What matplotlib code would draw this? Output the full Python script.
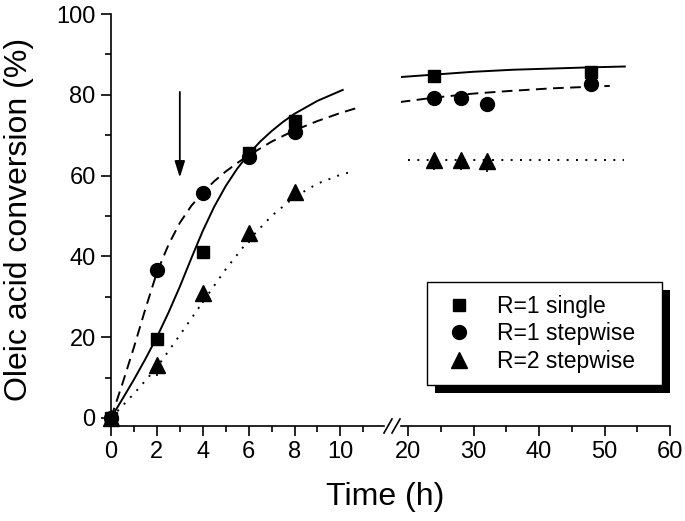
import numpy as np
import matplotlib
matplotlib.use("Agg")
import matplotlib.pyplot as plt
from matplotlib.lines import Line2D
import matplotlib.patheffects as pe

plt.rcParams["font.family"] = ["Liberation Sans", "DejaVu Sans"]

# measured points (time in h, conversion in %)
t_single = [0, 2, 4, 6, 8, 24, 48]
y_single = [0, 19.5, 41, 65.5, 73.5, 84.6, 85.6]
e_single = [0, 0.5, 0.5, 0.5, 0.5, 0.5, 0.5]

t_step1 = [0, 2, 4, 6, 8, 24, 28, 32, 48]
y_step1 = [0, 36.5, 55.8, 64.6, 70.7, 79.1, 79.2, 77.8, 82.6]
e_step1 = [0, 0.5, 0.5, 0.5, 0.5, 0.5, 0.5, 1.6, 0.5]

t_step2 = [0, 2, 4, 6, 8, 24, 28, 32]
y_step2 = [0, 13, 31, 45.8, 56, 63.9, 63.9, 63.7]
e_step2 = [0, 2.6, 2.6, 2.6, 1.5, 2.6, 2.6, 2.8]
e_step2_hi = [0, 1.0, 1.0, 1.0, 1.0, 1.0, 1.0, 1.0]

# fitted curves
fit_t_single = [0, 0.5, 1, 1.5, 2, 2.5, 3, 3.5, 4, 4.5, 5, 5.5, 6, 6.5, 7, 7.5, 8, 9, 10.1]
fit_y_single = [0, 4.7, 9.5, 14.6, 20, 26, 32.5, 39.5, 46.3, 52.3, 57.4, 61.7, 65.3, 68.4, 71, 73.3, 75.3, 78.5, 81.2]
fit_t_step1 = [0, 0.5, 1, 1.5, 2, 2.5, 3, 3.5, 4, 4.5, 5, 5.5, 6, 7, 8, 9, 10, 10.7]
fit_y_step1 = [0, 8.5, 17.5, 27, 36, 42.8, 48.3, 52.5, 55.8, 58.6, 61, 63.1, 65, 68.4, 71.2, 73.5, 75.5, 76.7]
fit_t_step2 = [0, 1, 2, 3, 4, 5, 6, 7, 8, 9, 10, 10.4]
fit_y_step2 = [0, 6, 12.5, 20.5, 28.7, 36.8, 44, 50, 54.7, 58, 60.2, 60.8]

fit2_t_single = [18.9, 24, 30, 36, 42, 48, 53.1]
fit2_y_single = [84.4, 85.0, 85.7, 86.2, 86.5, 86.8, 87.0]
fit2_t_step1 = [18.7, 24, 30, 36, 42, 48, 50.8]
fit2_y_step1 = [78.2, 79.3, 80.3, 81.0, 81.6, 82.0, 82.2]
fit2_t_step2 = [20, 53]
fit2_y_step2 = [63.8, 63.8]

labels = ["R=1 single", "R=1 stepwise", "R=2 stepwise"]

fig = plt.figure(figsize=(6.85, 5.21), dpi=100)
bot, hgt = 95 / 521, 412 / 521
ax1 = fig.add_axes([111 / 685, bot, 273 / 685, hgt])
ax2 = fig.add_axes([401 / 685, bot, 269 / 685, hgt], sharey=ax1)

dash = (0, (5.5, 3.3))
dot = (0, (1, 3.8))
lw = 1.4

series = [
    (t_single, y_single, e_single, e_single, "s", 9, "-", fit_t_single, fit_y_single, fit2_t_single, fit2_y_single),
    (t_step1, y_step1, e_step1, e_step1, "o", 10, dash, fit_t_step1, fit_y_step1, fit2_t_step1, fit2_y_step1),
    (t_step2, y_step2, e_step2, e_step2_hi, "^", 11, dot, fit_t_step2, fit_y_step2, fit2_t_step2, fit2_y_step2),
]

for t, y, elo, ehi, m, ms, ls, ft, fy, ft2, fy2 in series:
    t, y, elo, ehi = np.array(t), np.array(y), np.array(elo), np.array(ehi)
    left = t < 15
    ax1.plot(ft, fy, color="black", lw=lw, ls=ls)
    ax2.plot(ft2, fy2, color="black", lw=lw, ls=ls)
    for ax, sel in ((ax1, left), (ax2, ~left)):
        ax.errorbar(t[sel], y[sel], yerr=[elo[sel], ehi[sel]], fmt=m, ms=ms, color="black",
                    ecolor="black", elinewidth=1.2, capsize=0, clip_on=False, zorder=3)

ax1.set_xlim(0, 11.9)
ax2.set_xlim(18.9, 60)
ax1.set_ylim(-2, 100)

for ax in (ax1, ax2):
    for s in ("top", "right"):
        ax.spines[s].set_visible(False)
    ax.spines["bottom"].set_linewidth(1.2)
    ax.tick_params(which="major", length=7, width=1.2, labelsize=17, pad=4)
    ax.tick_params(which="minor", length=4, width=1.2)
ax2.spines["left"].set_visible(False)
ax1.spines["left"].set_linewidth(1.2)
ax2.tick_params(axis="y", which="both", left=False, labelleft=False)

ax1.set_xticks(np.arange(0, 11, 2))
ax1.set_xticks(np.arange(1, 12, 2), minor=True)
ax2.set_xticks(np.arange(20, 61, 10))
ax2.set_xticks(np.arange(25, 60, 10), minor=True)
ax1.set_yticks(np.arange(0, 101, 20))
ax1.set_yticks(np.arange(10, 100, 20), minor=True)

# arrow marking the second addition
ax1.annotate("", xy=(3, 59.5), xytext=(3, 80.7),
             arrowprops=dict(arrowstyle="-|>,head_length=0.7,head_width=0.22",
                             color="black", lw=1.3, mutation_scale=14, shrinkA=0, shrinkB=0))

# axis break marks
for x0 in (384, 392):
    fig.add_artist(Line2D([x0 / 685, (x0 + 8) / 685], [(521 - 433) / 521, (521 - 419) / 521],
                          color="black", lw=1.2, transform=fig.transFigure))

fig.text(385 / 685, 1 - 497 / 521, "Time (h)", ha="center", va="center", fontsize=23)
fig.text(19 / 685, 1 - 219 / 521, "Oleic acid conversion (%)", ha="center", va="center",
         rotation=90, fontsize=23)

handles = [Line2D([], [], marker=m, ms=ms, color="black", ls="none")
           for m, ms in (("s", 9), ("o", 10), ("^", 11))]
leg = fig.legend(handles, labels, loc="upper left",
                 bbox_to_anchor=(427 / 685, 0.2, 235 / 685, 1 - 282 / 521 - 0.2),
                 mode="expand", fontsize=16.5, frameon=True, fancybox=False, framealpha=1,
                 borderpad=0.55, handlelength=1.7, handletextpad=0.8, labelspacing=0.2,
                 borderaxespad=0)
frame = leg.get_frame()
frame.set_edgecolor("black")
frame.set_facecolor("white")
frame.set_linewidth(1.0)
frame.set_path_effects([pe.SimplePatchShadow(offset=(5.5, -5.5), shadow_rgbFace="black", alpha=1),
                        pe.Normal()])

fig.savefig("out.png", dpi=100)
